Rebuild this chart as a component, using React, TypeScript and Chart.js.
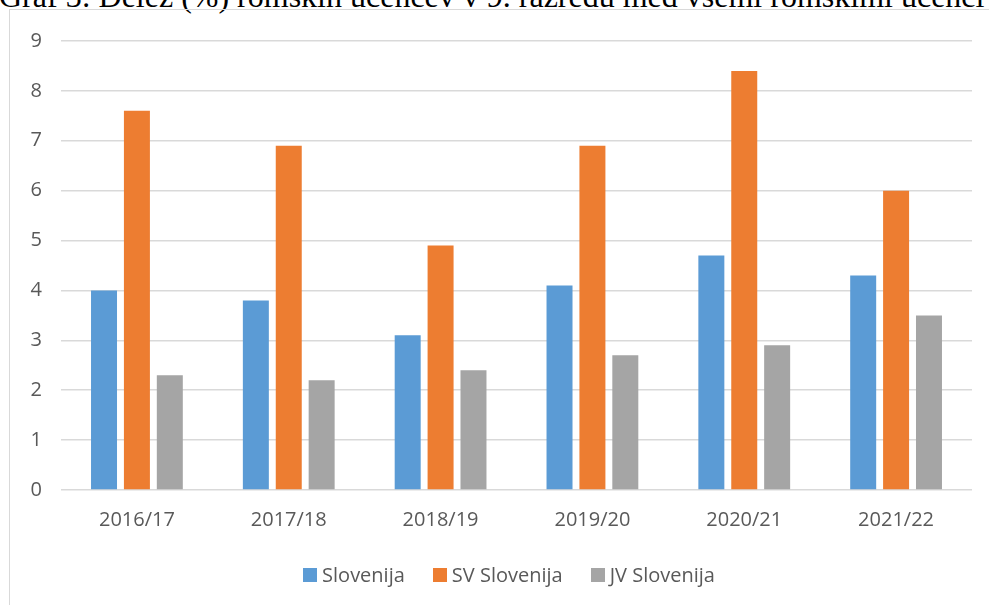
import React, { useEffect, useRef } from 'react';
import { Chart, registerables } from 'chart.js';

Chart.register(...registerables);

const titleText = 'Graf 3: Delež (%) romskih učencev v 9. razredu med vsemi romskimi učenci';
const categories = ['2016/17', '2017/18', '2018/19', '2019/20', '2020/21', '2021/22'];
const seriesNames = ['Slovenija', 'SV Slovenija', 'JV Slovenija'];
const slovenija = [4.0, 3.8, 3.1, 4.1, 4.7, 4.3];
const svSlovenija = [7.6, 6.9, 4.9, 6.9, 8.4, 6.0];
const jvSlovenija = [2.3, 2.2, 2.4, 2.7, 2.9, 3.5];
const seriesColors = ['#5B9BD5', '#ED7D31', '#A5A5A5'];
const yMin = 0;
const yMax = 9;
const yStep = 1;

const FONT = '"Open Sans", "Noto Sans", sans-serif';
const TEXT = '#595959';
const GRID = '#D9D9D9';

export default function App() {
  const ref = useRef<HTMLCanvasElement | null>(null);

  useEffect(() => {
    if (!ref.current) return;
    const values = [slovenija, svSlovenija, jvSlovenija];
    const chart = new Chart(ref.current, {
      type: 'bar',
      data: {
        labels: categories,
        datasets: seriesNames.map((name, i) => ({
          label: name,
          data: values[i],
          backgroundColor: seriesColors[i],
          borderWidth: 0,
          categoryPercentage: 0.65,
          barPercentage: 0.79,
        })),
      },
      options: {
        responsive: false,
        animation: false,
        layout: { padding: { top: 28, right: 18, left: 0, bottom: 0 } },
        plugins: {
          legend: { display: false },
          title: { display: false },
          tooltip: { enabled: false },
        },
        scales: {
          x: {
            grid: { display: false, drawTicks: false },
            border: { display: false },
            ticks: { color: TEXT, font: { family: FONT, size: 20 }, padding: 18, maxRotation: 0 },
            afterFit: (scale: any) => {
              scale.height = 116;
            },
          },
          y: {
            min: yMin,
            max: yMax,
            grid: { color: GRID, lineWidth: 1.5, drawTicks: false },
            border: { display: false },
            ticks: { stepSize: yStep, color: TEXT, font: { family: FONT, size: 20 }, padding: 19 },
            afterFit: (scale: any) => {
              scale.width = 51;
            },
          },
        },
      },
    });
    return () => chart.destroy();
  }, []);

  return (
    <div style={{ position: 'fixed', left: 0, top: 0, width: 989, height: 605, overflow: 'hidden', background: '#fff' }}>
      <div
        style={{
          position: 'absolute',
          left: -1,
          top: -20,
          whiteSpace: 'nowrap',
          fontFamily: '"Liberation Serif", "Times New Roman", serif',
          fontSize: 32,
          lineHeight: '32px',
          color: '#000',
        }}
      >
        {titleText}
      </div>
      <div
        style={{
          position: 'absolute',
          left: 9,
          top: 9,
          width: 1000,
          height: 620,
          borderLeft: `1px solid ${GRID}`,
          borderTop: `1px solid ${GRID}`,
          boxSizing: 'border-box',
          background: 'transparent',
        }}
      />
      <canvas ref={ref} width={980} height={596} style={{ position: 'absolute', left: 10, top: 10 }} />
      <div
        style={{
          position: 'absolute',
          left: 9,
          width: 1000,
          top: 563,
          display: 'flex',
          justifyContent: 'center',
          alignItems: 'center',
          fontFamily: FONT,
          fontSize: 20,
          lineHeight: '24px',
          color: TEXT,
        }}
      >
        {seriesNames.map((name, i) => (
          <div key={name} style={{ display: 'flex', alignItems: 'center', marginLeft: i === 0 ? 0 : 28 }}>
            <span style={{ display: 'inline-block', width: 14, height: 14, background: seriesColors[i], marginRight: 5 }} />
            <span>{name}</span>
          </div>
        ))}
      </div>
    </div>
  );
}
